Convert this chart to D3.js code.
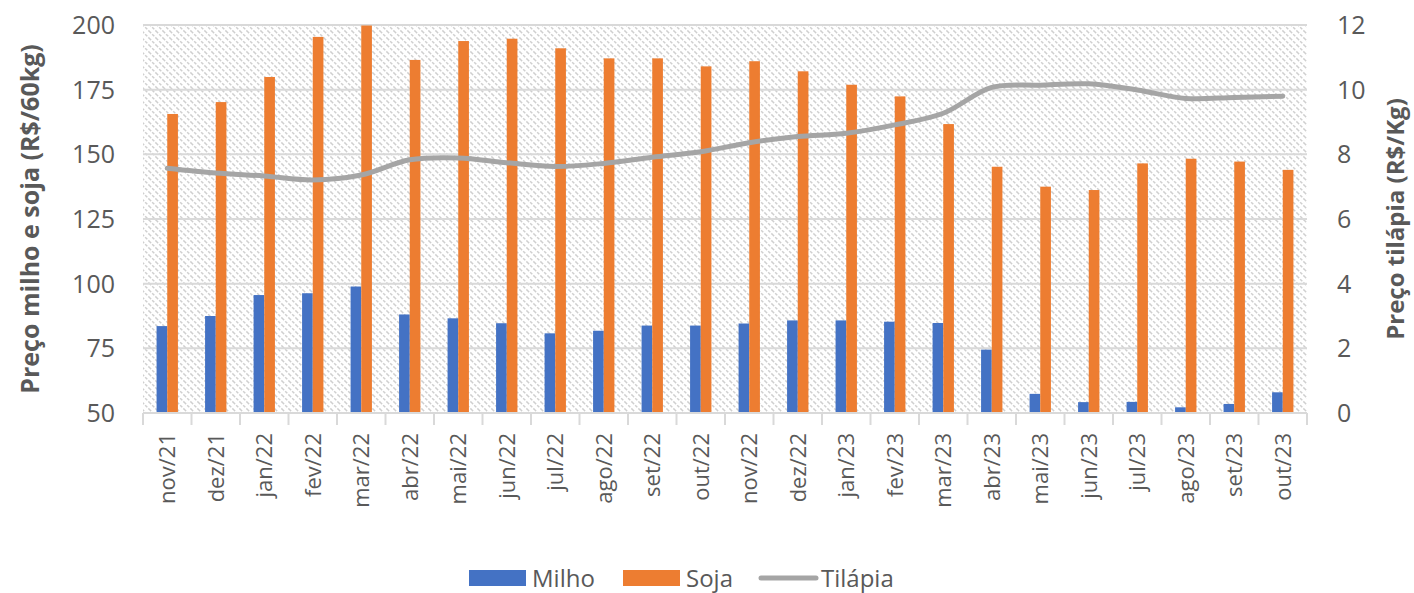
<!DOCTYPE html>
<html>
<head>
<meta charset="UTF-8">
<title>Milho, soja e tilápia</title>
<script src="https://cdnjs.cloudflare.com/ajax/libs/d3/7.8.5/d3.min.js"></script>
<style>
	body { margin: 0; background: #fff; }
	text { font-family: "Open Sans", "Liberation Sans", sans-serif; fill: #595959; }
</style>
</head>
<body>
<script type="text/javascript">
// monthly prices, nov/21 .. out/23
var months = ["nov/21","dez/21","jan/22","fev/22","mar/22","abr/22","mai/22","jun/22","jul/22","ago/22","set/22","out/22",
	"nov/22","dez/22","jan/23","fev/23","mar/23","abr/23","mai/23","jun/23","jul/23","ago/23","set/23","out/23"];
var milho = [83.6, 87.5, 95.6, 96.3, 98.9, 88.1, 86.6, 84.7, 80.8, 81.8, 83.8, 83.8,
	84.6, 85.8, 85.8, 85.3, 84.8, 74.5, 57.4, 54.2, 54.3, 52.2, 53.5, 58.0];
var soja = [165.6, 170.2, 179.9, 195.4, 199.8, 186.5, 193.8, 194.7, 191.0, 187.1, 187.1, 184.0,
	186.0, 182.1, 176.9, 172.4, 161.7, 145.2, 137.5, 136.2, 146.5, 148.3, 147.2, 144.0];
var tilapia = [7.57, 7.42, 7.33, 7.21, 7.36, 7.83, 7.89, 7.74, 7.62, 7.72, 7.91, 8.08,
	8.36, 8.55, 8.65, 8.91, 9.27, 10.07, 10.14, 10.18, 9.99, 9.73, 9.76, 9.80];
var leftTicks = [50, 75, 100, 125, 150, 175, 200];
var rightTicks = [0, 2, 4, 6, 8, 10, 12];

var width = 1414, height = 593;
var margin = {top: 25, right: 107, bottom: 180, left: 143};
var plotW = width - margin.left - margin.right;
var plotH = height - margin.top - margin.bottom;

var svg = d3.select("body").append("svg")
	.attr("width", width)
	.attr("height", height);

// diagonal hatch background
var defs = svg.append("defs");
var pat = defs.append("pattern")
	.attr("id", "hatch")
	.attr("patternUnits", "userSpaceOnUse")
	.attr("width", 7)
	.attr("height", 7);
pat.append("path")
	.attr("d", "M-1,-1 L8,8 M-1,6 L1,8 M6,-1 L8,1")
	.attr("stroke", "#cfcfcf")
	.attr("stroke-width", 1.5)
	.attr("stroke-dasharray", "3,1.5");

var g = svg.append("g").attr("transform", "translate(" + margin.left + "," + margin.top + ")");

var x = d3.scaleBand().domain(months).range([0, plotW]);
var yL = d3.scaleLinear().domain([50, 200]).range([plotH, 0]);
var yR = d3.scaleLinear().domain([0, 12]).range([plotH, 0]);

g.append("rect")
	.attr("width", plotW)
	.attr("height", plotH)
	.attr("fill", "url(#hatch)");

// gridlines
g.selectAll(".grid")
	.data(leftTicks.slice(1))
	.enter().append("line")
	.attr("x1", 0).attr("x2", plotW)
	.attr("y1", function(d) { return yL(d); })
	.attr("y2", function(d) { return yL(d); })
	.attr("stroke", "#d9d9d9")
	.attr("stroke-width", 2);

// bars
var barW = x.bandwidth() * 0.22;
g.selectAll(".milho")
	.data(milho)
	.enter().append("rect")
	.attr("x", function(d, i) { return x(months[i]) + x.bandwidth() / 2 - barW; })
	.attr("y", function(d) { return yL(d); })
	.attr("width", barW)
	.attr("height", function(d) { return plotH - yL(d); })
	.attr("fill", "#4472C4");

g.selectAll(".soja")
	.data(soja)
	.enter().append("rect")
	.attr("x", function(d, i) { return x(months[i]) + x.bandwidth() / 2; })
	.attr("y", function(d) { return yL(d); })
	.attr("width", barW)
	.attr("height", function(d) { return plotH - yL(d); })
	.attr("fill", "#ED7D31");

// tilapia line
var line = d3.line()
	.x(function(d, i) { return x(months[i]) + x.bandwidth() / 2; })
	.y(function(d) { return yR(d); })
	.curve(d3.curveCatmullRom.alpha(0.5));
g.append("path")
	.datum(tilapia)
	.attr("d", line)
	.attr("fill", "none")
	.attr("stroke", "#A5A5A5")
	.attr("stroke-width", 5)
	.attr("stroke-linecap", "round");

// bottom axis
var xAxis = g.append("g")
	.attr("transform", "translate(0," + plotH + ")");
xAxis.append("line")
	.attr("x1", 0).attr("x2", plotW)
	.attr("stroke", "#d9d9d9").attr("stroke-width", 2);
xAxis.selectAll(".tick")
	.data(d3.range(months.length + 1))
	.enter().append("line")
	.attr("x1", function(d) { return d * x.step(); })
	.attr("x2", function(d) { return d * x.step(); })
	.attr("y1", 0).attr("y2", 12)
	.attr("stroke", "#d9d9d9").attr("stroke-width", 2);
xAxis.selectAll(".lbl")
	.data(months)
	.enter().append("text")
	.attr("transform", function(d) { return "translate(" + (x(d) + x.bandwidth() / 2 + 8) + ",20) rotate(-90)"; })
	.attr("text-anchor", "end")
	.style("font-size", "22px")
	.text(function(d) { return d; });

// left axis labels
g.selectAll(".ly")
	.data(leftTicks)
	.enter().append("text")
	.attr("x", -28)
	.attr("y", function(d) { return yL(d) + 9; })
	.attr("text-anchor", "end")
	.style("font-size", "25px")
	.text(function(d) { return d; });

// right axis labels
g.selectAll(".ry")
	.data(rightTicks)
	.enter().append("text")
	.attr("x", plotW + 30)
	.attr("y", function(d) { return yR(d) + 9; })
	.attr("text-anchor", "start")
	.style("font-size", "25px")
	.text(function(d) { return d; });

// axis titles
svg.append("text")
	.attr("transform", "translate(39," + (margin.top + plotH / 2) + ") rotate(-90)")
	.attr("text-anchor", "middle")
	.style("font-size", "25px")
	.style("font-weight", "bold")
	.text("Preço milho e soja (R$/60kg)");
svg.append("text")
	.attr("transform", "translate(1404," + (margin.top + plotH / 2) + ") rotate(-90)")
	.attr("text-anchor", "middle")
	.style("font-size", "24px")
	.style("font-weight", "bold")
	.text("Preço tilápia (R$/Kg)");

// legend
var legend = svg.append("g").attr("transform", "translate(0,577)");
var items = [
	{name: "Milho", color: "#4472C4", type: "rect", x: 469},
	{name: "Soja", color: "#ED7D31", type: "rect", x: 623},
	{name: "Tilápia", color: "#A5A5A5", type: "line", x: 758}
];
items.forEach(function(it) {
	if (it.type == "rect") {
		legend.append("rect")
			.attr("x", it.x).attr("y", -7)
			.attr("width", 57).attr("height", 16)
			.attr("fill", it.color);
	} else {
		legend.append("line")
			.attr("x1", it.x + 3).attr("x2", it.x + 58)
			.attr("y1", 1).attr("y2", 1)
			.attr("stroke", it.color).attr("stroke-width", 5)
			.attr("stroke-linecap", "round");
	}
	legend.append("text")
		.attr("x", it.x + 63)
		.attr("y", 10)
		.style("font-size", "24px")
		.text(it.name);
});
</script>
</body>
</html>
